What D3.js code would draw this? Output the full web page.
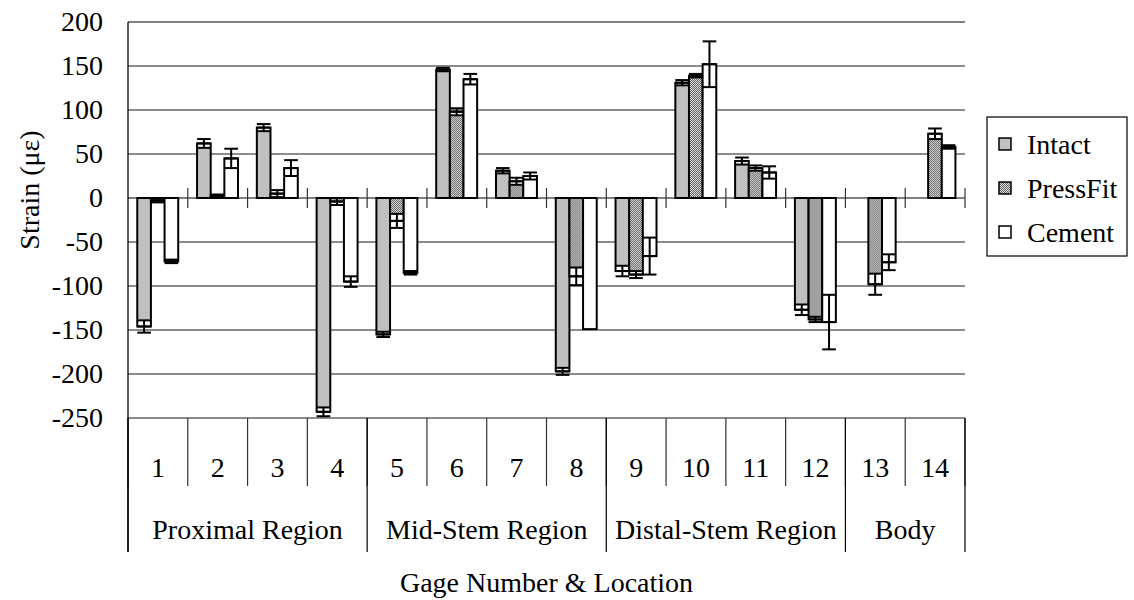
<!DOCTYPE html>
<html>
<head>
<meta charset="utf-8">
<script src="https://cdn.jsdelivr.net/npm/d3@7"></script>
<style>
  html, body { margin: 0; padding: 0; background: #fff; }
  svg text { font-family: "Liberation Serif", "Times New Roman", serif; fill: #000; }
</style>
</head>
<body>
<svg id="chart" width="1134" height="600"></svg>
<script>
// gauge numbers and the regions they belong to
const gages = ["1", "2", "3", "4", "5", "6", "7", "8", "9", "10", "11", "12", "13", "14"];
const regions = ["Proximal Region", "Mid-Stem Region", "Distal-Stem Region", "Body"];
const regionSizes = [4, 4, 4, 2];
const seriesNames = ["Intact", "PressFit", "Cement"];

// mean strain (microstrain) and error per gauge
const intact = [-146, 62, 80, -243, -155, 146, 31, -197, -83, 131, 42, -127, null, null];
const intactErr = [7, 5, 4, 5, 3, 2, 3, 4, 6, 3, 4, 6, null, null];
const pressFit = [-3, 3, 5, -4, -26, 98, 19, -89, -87, 139, 34, -138, -98, 73];
const pressFitErr = [2, 1, 4, 4, 8, 4, 4, 10, 4, 2, 3, 3, 12, 6];
const cement = [-72, 45, 34, -95, -85, 135, 25, -149, -66, 152, 29, -141, -73, 58];
const cementErr = [2, 11, 9, 6, 2, 6, 4, 0, 21, 26, 7, 31, 9, 2];

const yTicks = [-250, -200, -150, -100, -50, 0, 50, 100, 150, 200];

const plotLeft = 128, plotRight = 965, plotTop = 22, plotBottom = 418;
const numRowBottom = 486, regionRowBottom = 552;
const serif = "'Liberation Serif', 'Times New Roman', serif";

const svg = d3.select("#chart");

const defs = svg.append("defs");
const pat = defs.append("pattern")
  .attr("id", "dots")
  .attr("patternUnits", "userSpaceOnUse")
  .attr("width", 2).attr("height", 2);
pat.append("rect").attr("width", 2).attr("height", 2).attr("fill", "#e0e0e0");
pat.append("rect").attr("x", 0).attr("y", 0).attr("width", 1).attr("height", 1).attr("fill", "#606060");
pat.append("rect").attr("x", 1).attr("y", 1).attr("width", 1).attr("height", 1).attr("fill", "#606060");

const fills = {Intact: "#c0c0c0", PressFit: "url(#dots)", Cement: "#ffffff"};

const y = d3.scaleLinear().domain([-250, 200]).range([plotBottom, plotTop]);
const x0 = d3.scaleBand().domain(gages).range([plotLeft, plotRight]).padding(0);
const bw = x0.bandwidth();
const x1 = d3.scaleBand().domain(seriesNames).range([bw * 0.155, bw * 0.84]).padding(0);

// gridlines
svg.append("g")
  .selectAll("line")
  .data(yTicks)
  .enter()
  .append("line")
  .attr("x1", plotLeft).attr("x2", plotRight)
  .attr("y1", d => y(d)).attr("y2", d => y(d))
  .attr("stroke", d => (d === 200 || d === 0) ? "#808080" : "#1a1a1a")
  .attr("stroke-width", d => (d === 200 || d === 0) ? 2 : 1.2);

// y axis labels (plain hyphen for negatives, like the original)
const yAxis = svg.append("g")
  .attr("transform", "translate(" + plotLeft + ",0)")
  .call(d3.axisLeft(y).tickValues(yTicks).tickSize(0).tickPadding(25).tickFormat(d => String(d)));
yAxis.select(".domain").remove();
yAxis.attr("font-family", null).attr("font-size", null);
yAxis.selectAll("text")
  .style("font-family", serif)
  .style("font-size", "28px")
  .attr("fill", "#000");

// left axis line, running down through the category rows
svg.append("line")
  .attr("x1", plotLeft).attr("x2", plotLeft)
  .attr("y1", plotTop).attr("y2", regionRowBottom)
  .attr("stroke", "#000").attr("stroke-width", 1.3);

// small ticks across the zero line at category boundaries
const bounds = gages.map(g => x0(g)).concat([plotRight]);
svg.append("g")
  .selectAll("line")
  .data(bounds.slice(1))
  .enter()
  .append("line")
  .attr("x1", d => d).attr("x2", d => d)
  .attr("y1", y(0) - 10).attr("y2", y(0) + 10)
  .attr("stroke", "#333").attr("stroke-width", 1.2);

// bars
const rows = [];
gages.forEach((g, i) => {
  [[intact, intactErr], [pressFit, pressFitErr], [cement, cementErr]].forEach((s, k) => {
    if (s[0][i] == null) return;
    rows.push({gage: g, series: seriesNames[k], value: s[0][i], err: s[1][i]});
  });
});

const barW = x1.bandwidth();
const bars = svg.append("g")
  .selectAll("g")
  .data(rows)
  .enter()
  .append("g")
  .attr("transform", d => "translate(" + (x0(d.gage) + x1(d.series)) + ",0)");

bars.append("rect")
  .attr("x", 0)
  .attr("width", barW)
  .attr("y", d => Math.min(y(0), y(d.value)))
  .attr("height", d => Math.abs(y(d.value) - y(0)))
  .attr("fill", d => fills[d.series]);

// part of the bar covered by the inner half of the error bar shows white
bars.filter(d => d.err > 0 && d.err < Math.abs(d.value))
  .append("rect")
  .attr("x", 0)
  .attr("width", barW)
  .attr("y", d => Math.min(y(d.value), y(d.value - Math.sign(d.value) * d.err)))
  .attr("height", d => Math.abs(y(d.value) - y(d.value - Math.sign(d.value) * d.err)))
  .attr("fill", "#fff");

bars.append("rect")
  .attr("x", 0)
  .attr("width", barW)
  .attr("y", d => Math.min(y(0), y(d.value)))
  .attr("height", d => Math.abs(y(d.value) - y(0)))
  .attr("fill", "none")
  .attr("stroke", "#000")
  .attr("stroke-width", 2);

// error bars
const errs = bars.filter(d => d.err > 0);
errs.append("line")
  .attr("x1", barW / 2).attr("x2", barW / 2)
  .attr("y1", d => y(d.value - d.err)).attr("y2", d => y(d.value + d.err))
  .attr("stroke", "#000").attr("stroke-width", 2);
errs.append("line")
  .attr("x1", 0).attr("x2", barW)
  .attr("y1", d => y(d.value - d.err)).attr("y2", d => y(d.value - d.err))
  .attr("stroke", "#000").attr("stroke-width", 2);
errs.append("line")
  .attr("x1", 0).attr("x2", barW)
  .attr("y1", d => y(d.value + d.err)).attr("y2", d => y(d.value + d.err))
  .attr("stroke", "#000").attr("stroke-width", 2);
errs.append("line")
  .attr("x1", 0).attr("x2", barW)
  .attr("y1", d => y(d.value)).attr("y2", d => y(d.value))
  .attr("stroke", "#000").attr("stroke-width", 2);

// category rows under the plot
svg.append("g")
  .selectAll("line")
  .data(bounds)
  .enter()
  .append("line")
  .attr("x1", d => d).attr("x2", d => d)
  .attr("y1", plotBottom).attr("y2", numRowBottom)
  .attr("stroke", "#333").attr("stroke-width", 1.2);

svg.append("g")
  .selectAll("text")
  .data(gages)
  .enter()
  .append("text")
  .attr("x", d => x0(d) + bw / 2)
  .attr("y", 477)
  .attr("text-anchor", "middle")
  .style("font-family", serif)
  .style("font-size", "28px")
  .text(d => d);

let start = 0;
const regionBounds = [plotLeft];
const regionCenters = [];
regionSizes.forEach(n => {
  const a = x0(gages[start]);
  const b = x0(gages[start + n - 1]) + bw;
  regionCenters.push((a + b) / 2);
  regionBounds.push(b);
  start += n;
});

svg.append("g")
  .selectAll("line")
  .data(regionBounds)
  .enter()
  .append("line")
  .attr("x1", d => d).attr("x2", d => d)
  .attr("y1", plotBottom).attr("y2", regionRowBottom)
  .attr("stroke", "#000").attr("stroke-width", 1.2);

svg.append("g")
  .selectAll("text")
  .data(regions)
  .enter()
  .append("text")
  .attr("x", (d, i) => regionCenters[i])
  .attr("y", 539)
  .attr("text-anchor", "middle")
  .style("font-family", serif)
  .style("font-size", "28px")
  .text(d => d);

// axis titles
svg.append("text")
  .attr("x", (plotLeft + plotRight) / 2)
  .attr("y", 592)
  .attr("text-anchor", "middle")
  .style("font-family", serif)
  .style("font-size", "28px")
  .text("Gage Number & Location");

svg.append("text")
  .attr("transform", "translate(39,190) rotate(-90)")
  .attr("text-anchor", "middle")
  .style("font-family", serif)
  .style("font-size", "28px")
  .text("Strain (με)");

// legend
const legend = svg.append("g");
legend.append("rect")
  .attr("x", 987).attr("y", 117)
  .attr("width", 140).attr("height", 139)
  .attr("fill", "#fff")
  .attr("stroke", "#000").attr("stroke-width", 1.2);

const items = legend.selectAll("g")
  .data(seriesNames)
  .enter()
  .append("g")
  .attr("transform", (d, i) => "translate(0," + (144 + i * 44) + ")");

items.append("rect")
  .attr("x", 999).attr("y", -6)
  .attr("width", 12).attr("height", 12)
  .attr("fill", d => fills[d])
  .attr("stroke", "#000").attr("stroke-width", 1.5);

items.append("text")
  .attr("x", 1027)
  .attr("y", 0)
  .attr("dy", "0.35em")
  .style("font-family", serif)
  .style("font-size", "28px")
  .text(d => d);
</script>
</body>
</html>
